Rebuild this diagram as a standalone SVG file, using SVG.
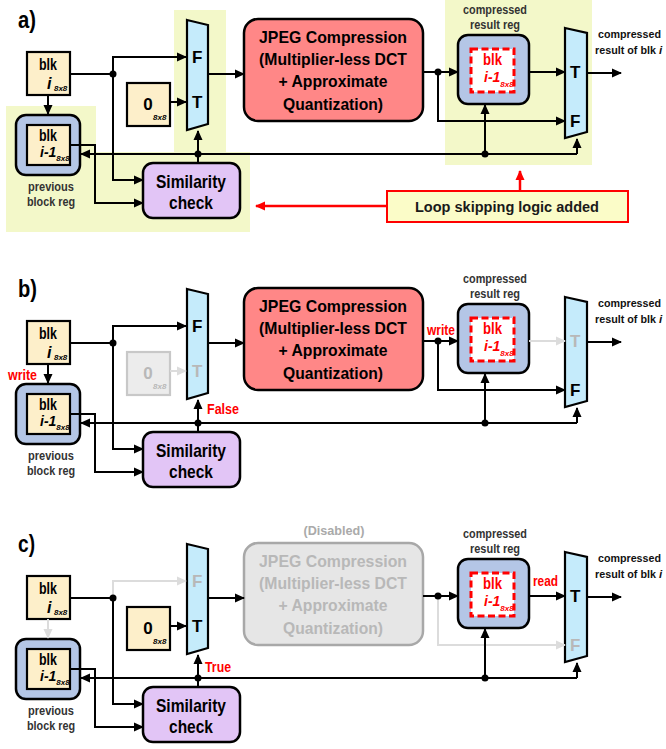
<svg xmlns="http://www.w3.org/2000/svg" width="666" height="749" viewBox="0 0 666 749">
  <style>
    text { font-family: "Liberation Sans", Arial, sans-serif; font-weight: bold; }
    .hl { fill: #f3f8c9; }
    .box { fill: #fdefca; stroke: #000; stroke-width: 2.2; }
    .box-off { fill: #ececec; stroke: #c8c8c8; stroke-width: 2.2; }
    .reg { fill: #b4c6e6; stroke: #000; stroke-width: 2.5; }
    .mux { fill: #c5ebfb; stroke: #000; stroke-width: 2.2; }
    .jpeg { fill: #ff8787; stroke: #000; stroke-width: 2.5; }
    .jpeg-off { fill: #e6e6e6; stroke: #a8a8a8; stroke-width: 2.5; }
    .sim { fill: #e2c5f6; stroke: #000; stroke-width: 2.5; }
    .data { fill: #fff; stroke: #ff0000; stroke-width: 3; stroke-dasharray: 7 3.5; }
    .w { fill: none; stroke: #000; stroke-width: 2; marker-end: url(#ah); }
    .wn { fill: none; stroke: #000; stroke-width: 2; }
    .wg { fill: none; stroke: #dcdcdc; stroke-width: 2; marker-end: url(#ahg); }
    .wr { fill: none; stroke: #ff0000; stroke-width: 2.5; marker-end: url(#ahr); }
    .dot { fill: #000; }
    .big { font-size: 17px; text-anchor: middle; }
    .it16 { font-size: 16px; font-style: italic; }
    .it14 { font-size: 14px; font-style: italic; }
    .sub { font-size: 8px; font-style: italic; }
    .mx { font-size: 17px; }
    .jp { font-size: 16.5px; text-anchor: middle; }
    .sm { font-size: 19px; text-anchor: middle; }
    .lbl { font-size: 12.5px; text-anchor: middle; fill: #333; }
    .out { font-size: 11.5px; fill: #111; }
    .pl { font-size: 23px; }
    .note { font-size: 14px; fill: #ff0000; }
    .off { fill: #b8b8b8; }
    .red { fill: #ff0000; }
  </style>
  <defs>
    <marker id="ah" viewBox="0 0 10 10" refX="9" refY="5" markerWidth="10" markerHeight="10" markerUnits="userSpaceOnUse" orient="auto">
      <path d="M0,0.5 L10,5 L0,9.5 Z" fill="#000"/>
    </marker>
    <marker id="ahg" viewBox="0 0 10 10" refX="9" refY="5" markerWidth="10" markerHeight="10" markerUnits="userSpaceOnUse" orient="auto">
      <path d="M0,0.5 L10,5 L0,9.5 Z" fill="#dcdcdc"/>
    </marker>
    <marker id="ahr" viewBox="0 0 10 10" refX="9" refY="5" markerWidth="10" markerHeight="10" markerUnits="userSpaceOnUse" orient="auto">
      <path d="M0,0.5 L10,5 L0,9.5 Z" fill="#ff0000"/>
    </marker>
  </defs>

  <!-- ===================== a) ===================== -->
  <g id="panel-a">
    <g id="a-highlight" class="hl">
      <path d="M6,106H96V152H250V232H6Z"/>
      <rect x="174" y="10" width="52" height="142"/>
      <rect x="445" y="0" width="147" height="165"/>
    </g>
    <text class="pl" x="18" y="28" textLength="18" lengthAdjust="spacingAndGlyphs">a)</text>

    <g id="a-blk-i">
      <rect class="box" x="27" y="52" width="43" height="43"/>
      <text class="big" x="48" y="70" textLength="18" lengthAdjust="spacingAndGlyphs">blk</text>
      <text class="it16" x="47" y="89">i<tspan class="sub" dx="2.5" dy="2">8x8</tspan></text>
    </g>
    <g id="a-prev-reg">
      <rect class="reg" x="16" y="115" width="64" height="60" rx="10"/>
      <rect class="box" x="27" y="125" width="43" height="40"/>
      <text class="big" x="48" y="141" textLength="18" lengthAdjust="spacingAndGlyphs">blk</text>
      <text class="it14" x="40" y="157">i-1<tspan class="sub" dy="4">8x8</tspan></text>
      <text class="lbl" x="51" y="191" textLength="46" lengthAdjust="spacingAndGlyphs">previous</text>
      <text class="lbl" x="51" y="206" textLength="48" lengthAdjust="spacingAndGlyphs">block reg</text>
    </g>
    <g id="a-zero">
      <rect class="box" x="127" y="83" width="43" height="43"/>
      <text class="big" x="148" y="110">0</text>
      <text class="sub" x="153" y="120">8x8</text>
    </g>
    <g id="a-mux-in">
      <polygon class="mux" points="187,20 208,25 208,124 187,130"/>
      <text class="mx" x="192" y="63">F</text>
      <text class="mx" x="192" y="108">T</text>
    </g>
    <g id="a-jpeg">
      <rect class="jpeg" x="244" y="19" width="179" height="102" rx="14"/>
      <text class="jp" x="333" y="43" textLength="148" lengthAdjust="spacingAndGlyphs">JPEG Compression</text>
      <text class="jp" x="333" y="65" textLength="148" lengthAdjust="spacingAndGlyphs">(Multiplier-less DCT</text>
      <text class="jp" x="333" y="87" textLength="109" lengthAdjust="spacingAndGlyphs">+ Approximate</text>
      <text class="jp" x="333" y="110" textLength="100" lengthAdjust="spacingAndGlyphs">Quantization)</text>
    </g>
    <g id="a-similarity">
      <rect class="sim" x="143" y="163" width="97" height="55" rx="10"/>
      <text class="sm" x="191" y="188" textLength="70" lengthAdjust="spacingAndGlyphs">Similarity</text>
      <text class="sm" x="191" y="209" textLength="44" lengthAdjust="spacingAndGlyphs">check</text>
    </g>
    <g id="a-result-reg">
      <text class="lbl" x="495" y="14" textLength="64" lengthAdjust="spacingAndGlyphs">compressed</text>
      <text class="lbl" x="495" y="29" textLength="50" lengthAdjust="spacingAndGlyphs">result reg</text>
      <rect class="reg" x="458" y="35" width="71" height="69" rx="10"/>
      <rect class="data" x="471" y="49" width="43" height="43"/>
      <text class="big red" x="492.5" y="65" textLength="19" lengthAdjust="spacingAndGlyphs">blk</text>
      <text class="it14 red" x="484" y="82">i-1<tspan class="sub" dy="5">8x8</tspan></text>
    </g>
    <g id="a-mux-out">
      <polygon class="mux" points="565,28 587,33 587,132 565,138"/>
      <text class="mx" x="570" y="78">T</text>
      <text class="mx" x="570" y="127">F</text>
      <text class="out" x="598" y="38" textLength="63" lengthAdjust="spacingAndGlyphs">compressed</text>
      <text class="out" x="595" y="54" textLength="61" lengthAdjust="spacingAndGlyphs">result of blk</text>
      <text class="out" x="659" y="54" font-style="italic">i</text>
    </g>
    <g id="a-note">
      <rect x="387" y="191" width="241" height="31" fill="#fbfcc8" stroke="#ff0000" stroke-width="2"/>
      <text x="507" y="212" font-size="14.5" text-anchor="middle" fill="#1a1a1a" textLength="184" lengthAdjust="spacingAndGlyphs">Loop skipping logic added</text>
      <path class="wr" d="M386,206H256"/>
      <path class="wr" d="M520,190V171"/>
    </g>

    <g id="a-connectors">
      <path class="wn" d="M70,74H113"/>
      <path class="w" d="M113,74V57H186"/>
      <path class="w" d="M113,74V180H143"/>
      <path class="w" d="M48,95V114"/>
      <path class="w" d="M170,102H186"/>
      <path class="w" d="M208,74H244"/>
      <path class="w" d="M70,145H95V203H143"/>
      <path class="w" d="M577,154H81"/>
      <path class="w" d="M198,163V131"/>
      <path class="w" d="M423,72H458"/>
      <path class="w" d="M438,72V121H565"/>
      <path class="w" d="M529,72H565"/>
      <path class="w" d="M485,154V105"/>
      <path class="w" d="M577,154V139"/>
      <path class="w" d="M587,73H621"/>
      <circle class="dot" cx="113" cy="74" r="3.5"/>
      <circle class="dot" cx="198" cy="154" r="3.5"/>
      <circle class="dot" cx="438" cy="72" r="3.5"/>
      <circle class="dot" cx="485" cy="154" r="3.5"/>
    </g>
  </g>

  <!-- ===================== b) ===================== -->
  <g id="panel-b" transform="translate(0,269)">
    <text class="pl" x="18" y="28" textLength="19" lengthAdjust="spacingAndGlyphs">b)</text>

    <g id="b-blk-i">
      <rect class="box" x="27" y="52" width="43" height="43"/>
      <text class="big" x="48" y="70" textLength="18" lengthAdjust="spacingAndGlyphs">blk</text>
      <text class="it16" x="47" y="89">i<tspan class="sub" dx="2.5" dy="2">8x8</tspan></text>
    </g>
    <g id="b-prev-reg">
      <rect class="reg" x="16" y="115" width="64" height="60" rx="10"/>
      <rect class="box" x="27" y="125" width="43" height="40"/>
      <text class="big" x="48" y="141" textLength="18" lengthAdjust="spacingAndGlyphs">blk</text>
      <text class="it14" x="40" y="157">i-1<tspan class="sub" dy="4">8x8</tspan></text>
      <text class="lbl" x="51" y="191" textLength="46" lengthAdjust="spacingAndGlyphs">previous</text>
      <text class="lbl" x="51" y="206" textLength="48" lengthAdjust="spacingAndGlyphs">block reg</text>
    </g>
    <g id="b-zero">
      <rect class="box-off" x="127" y="83" width="43" height="43"/>
      <text class="big off" x="148" y="110">0</text>
      <text class="sub off" x="153" y="120">8x8</text>
    </g>
    <g id="b-mux-in">
      <polygon class="mux" points="187,20 208,25 208,124 187,130"/>
      <text class="mx" x="192" y="63">F</text>
      <text class="mx off" x="192" y="108">T</text>
    </g>
    <g id="b-jpeg">
      <rect class="jpeg" x="244" y="19" width="179" height="102" rx="14"/>
      <text class="jp" x="333" y="43" textLength="148" lengthAdjust="spacingAndGlyphs">JPEG Compression</text>
      <text class="jp" x="333" y="65" textLength="148" lengthAdjust="spacingAndGlyphs">(Multiplier-less DCT</text>
      <text class="jp" x="333" y="87" textLength="109" lengthAdjust="spacingAndGlyphs">+ Approximate</text>
      <text class="jp" x="333" y="110" textLength="100" lengthAdjust="spacingAndGlyphs">Quantization)</text>
    </g>
    <g id="b-similarity">
      <rect class="sim" x="143" y="163" width="97" height="55" rx="10"/>
      <text class="sm" x="191" y="188" textLength="70" lengthAdjust="spacingAndGlyphs">Similarity</text>
      <text class="sm" x="191" y="209" textLength="44" lengthAdjust="spacingAndGlyphs">check</text>
    </g>
    <g id="b-result-reg">
      <text class="lbl" x="495" y="14" textLength="64" lengthAdjust="spacingAndGlyphs">compressed</text>
      <text class="lbl" x="495" y="29" textLength="50" lengthAdjust="spacingAndGlyphs">result reg</text>
      <rect class="reg" x="458" y="35" width="71" height="69" rx="10"/>
      <rect class="data" x="471" y="49" width="43" height="43"/>
      <text class="big red" x="492.5" y="65" textLength="19" lengthAdjust="spacingAndGlyphs">blk</text>
      <text class="it14 red" x="484" y="82">i-1<tspan class="sub" dy="5">8x8</tspan></text>
    </g>
    <g id="b-mux-out">
      <polygon class="mux" points="565,28 587,33 587,132 565,138"/>
      <text class="mx off" x="570" y="78">T</text>
      <text class="mx" x="570" y="127">F</text>
      <text class="out" x="598" y="38" textLength="63" lengthAdjust="spacingAndGlyphs">compressed</text>
      <text class="out" x="595" y="54" textLength="61" lengthAdjust="spacingAndGlyphs">result of blk</text>
      <text class="out" x="659" y="54" font-style="italic">i</text>
    </g>
    <g id="b-notes">
      <text class="note" x="8" y="111" textLength="29" lengthAdjust="spacingAndGlyphs">write</text>
      <text class="note" x="207" y="145" textLength="32" lengthAdjust="spacingAndGlyphs">False</text>
      <text class="note" x="427" y="66" textLength="28" lengthAdjust="spacingAndGlyphs">write</text>
    </g>

    <g id="b-connectors">
      <path class="wn" d="M70,74H113"/>
      <path class="w" d="M113,74V57H186"/>
      <path class="w" d="M113,74V180H143"/>
      <path class="w" d="M48,95V114"/>
      <path class="wg" d="M170,102H186"/>
      <path class="w" d="M208,74H244"/>
      <path class="w" d="M70,145H95V203H143"/>
      <path class="w" d="M577,154H81"/>
      <path class="w" d="M198,163V131"/>
      <path class="w" d="M423,72H458"/>
      <path class="w" d="M438,72V121H565"/>
      <path class="wg" d="M529,72H565"/>
      <path class="w" d="M485,154V105"/>
      <path class="w" d="M577,154V139"/>
      <path class="w" d="M587,73H621"/>
      <circle class="dot" cx="113" cy="74" r="3.5"/>
      <circle class="dot" cx="198" cy="154" r="3.5"/>
      <circle class="dot" cx="438" cy="72" r="3.5"/>
      <circle class="dot" cx="485" cy="154" r="3.5"/>
    </g>
  </g>

  <!-- ===================== c) ===================== -->
  <g id="panel-c" transform="translate(0,524)">
    <text class="pl" x="18" y="28" textLength="17" lengthAdjust="spacingAndGlyphs">c)</text>

    <g id="c-blk-i">
      <rect class="box" x="27" y="52" width="43" height="43"/>
      <text class="big" x="48" y="70" textLength="18" lengthAdjust="spacingAndGlyphs">blk</text>
      <text class="it16" x="47" y="89">i<tspan class="sub" dx="2.5" dy="2">8x8</tspan></text>
    </g>
    <g id="c-prev-reg">
      <rect class="reg" x="16" y="115" width="64" height="60" rx="10"/>
      <rect class="box" x="27" y="125" width="43" height="40"/>
      <text class="big" x="48" y="141" textLength="18" lengthAdjust="spacingAndGlyphs">blk</text>
      <text class="it14" x="40" y="157">i-1<tspan class="sub" dy="4">8x8</tspan></text>
      <text class="lbl" x="51" y="191" textLength="46" lengthAdjust="spacingAndGlyphs">previous</text>
      <text class="lbl" x="51" y="206" textLength="48" lengthAdjust="spacingAndGlyphs">block reg</text>
    </g>
    <g id="c-zero">
      <rect class="box" x="127" y="83" width="43" height="43"/>
      <text class="big" x="148" y="110">0</text>
      <text class="sub" x="153" y="120">8x8</text>
    </g>
    <g id="c-mux-in">
      <polygon class="mux" points="187,20 208,25 208,124 187,130"/>
      <text class="mx off" x="192" y="63">F</text>
      <text class="mx" x="192" y="108">T</text>
    </g>
    <g id="c-jpeg">
      <text x="334" y="11" font-size="13" text-anchor="middle" fill="#aaaaaa" textLength="61" lengthAdjust="spacingAndGlyphs">(Disabled)</text>
      <rect class="jpeg-off" x="244" y="19" width="179" height="102" rx="14"/>
      <text class="jp off" x="333" y="43" textLength="148" lengthAdjust="spacingAndGlyphs">JPEG Compression</text>
      <text class="jp off" x="333" y="65" textLength="148" lengthAdjust="spacingAndGlyphs">(Multiplier-less DCT</text>
      <text class="jp off" x="333" y="87" textLength="109" lengthAdjust="spacingAndGlyphs">+ Approximate</text>
      <text class="jp off" x="333" y="110" textLength="100" lengthAdjust="spacingAndGlyphs">Quantization)</text>
    </g>
    <g id="c-similarity">
      <rect class="sim" x="143" y="163" width="97" height="55" rx="10"/>
      <text class="sm" x="191" y="188" textLength="70" lengthAdjust="spacingAndGlyphs">Similarity</text>
      <text class="sm" x="191" y="209" textLength="44" lengthAdjust="spacingAndGlyphs">check</text>
    </g>
    <g id="c-result-reg">
      <text class="lbl" x="495" y="14" textLength="64" lengthAdjust="spacingAndGlyphs">compressed</text>
      <text class="lbl" x="495" y="29" textLength="50" lengthAdjust="spacingAndGlyphs">result reg</text>
      <rect class="reg" x="458" y="35" width="71" height="69" rx="10"/>
      <rect class="data" x="471" y="49" width="43" height="43"/>
      <text class="big red" x="492.5" y="65" textLength="19" lengthAdjust="spacingAndGlyphs">blk</text>
      <text class="it14 red" x="484" y="82">i-1<tspan class="sub" dy="5">8x8</tspan></text>
    </g>
    <g id="c-mux-out">
      <polygon class="mux" points="565,28 587,33 587,132 565,138"/>
      <text class="mx" x="570" y="78">T</text>
      <text class="mx off" x="570" y="127">F</text>
      <text class="out" x="598" y="38" textLength="63" lengthAdjust="spacingAndGlyphs">compressed</text>
      <text class="out" x="595" y="54" textLength="61" lengthAdjust="spacingAndGlyphs">result of blk</text>
      <text class="out" x="659" y="54" font-style="italic">i</text>
    </g>
    <g id="c-notes">
      <text class="note" x="205" y="148" textLength="26" lengthAdjust="spacingAndGlyphs">True</text>
      <text class="note" x="533" y="62" textLength="25" lengthAdjust="spacingAndGlyphs">read</text>
    </g>

    <g id="c-connectors">
      <path class="wn" d="M70,74H113"/>
      <path class="wg" d="M113,74V57H186"/>
      <path class="w" d="M113,74V180H143"/>
      <path class="wg" d="M48,95V114"/>
      <path class="w" d="M170,102H186"/>
      <path class="w" d="M208,74H244"/>
      <path class="w" d="M70,145H95V203H143"/>
      <path class="w" d="M577,154H81"/>
      <path class="w" d="M198,163V131"/>
      <path class="w" d="M423,72H458"/>
      <path class="wg" d="M438,72V121H565"/>
      <path class="w" d="M529,72H565"/>
      <path class="w" d="M485,154V105"/>
      <path class="w" d="M577,154V139"/>
      <path class="w" d="M587,73H621"/>
      <circle class="dot" cx="113" cy="74" r="3.5"/>
      <circle class="dot" cx="198" cy="154" r="3.5"/>
      <circle class="dot" cx="438" cy="72" r="3.5"/>
      <circle class="dot" cx="485" cy="154" r="3.5"/>
    </g>
  </g>
</svg>
